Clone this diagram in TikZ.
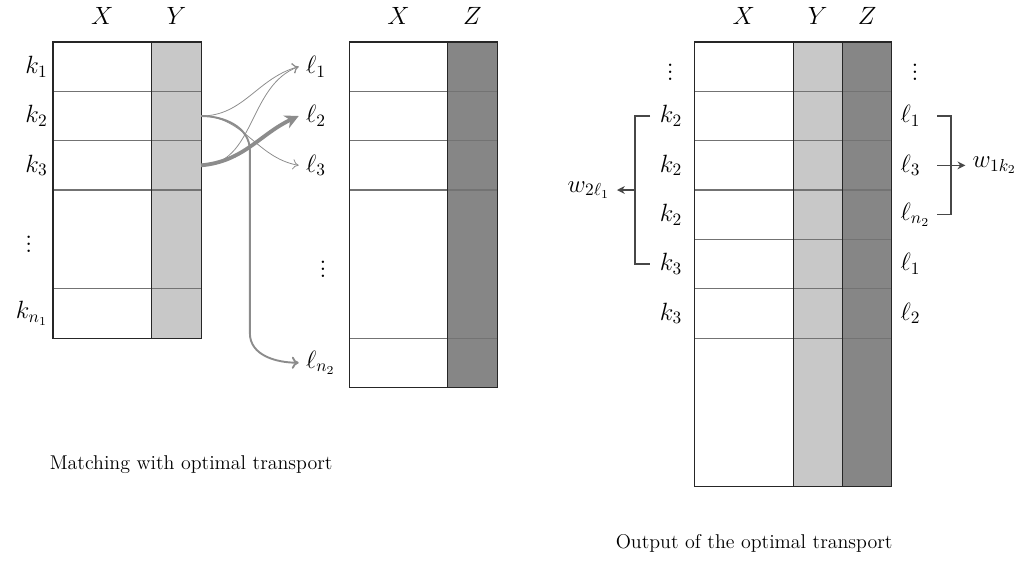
\documentclass[12pt,tikz,border=0pt]{standalone}
\usepackage{amsmath}
\usepackage{amssymb}
\usetikzlibrary{arrows.meta,calc}
\definecolor{ygray}{HTML}{C8C8C8}
\definecolor{zgray}{HTML}{868686}
\definecolor{linkgray}{HTML}{8C8C8C}
\definecolor{bracegray}{HTML}{474747}

\begin{document}
\begin{tikzpicture}[
    frame/.style={draw=black!85, line width=0.6pt},
    rowline/.style={draw=black!55, line width=0.6pt},
    rowlabel/.style={font=\large},
    colhead/.style={font=\large},
    thinlink/.style={draw=linkgray, line width=0.45pt, -{To[length=3.5pt,width=6pt]}},
    midlink/.style={draw=linkgray, line width=1.1pt, -{To[length=4pt,width=7pt]}},
    thicklink/.style={draw=linkgray, line width=2.2pt, -{Stealth[length=8pt,width=8pt]}},
    bracket/.style={draw=bracegray, line width=0.9pt},
    bracearrow/.style={draw=bracegray, line width=0.9pt, -{Stealth[length=4.5pt,width=4.5pt]}},
    caption/.style={font=\fontsize{11.5}{13}\selectfont}
]
    \useasboundingbox (-1.074,-10.886) rectangle (19.74,0.851);

    % matching: first table
    \fill[ygray] (2,0) rectangle (3,-6);
    \foreach \y in {-1,-2,-3,-5} \draw[rowline] (0,\y) -- (3,\y);
    \draw[frame] (0,0) rectangle (3,-6);
    \draw[frame] (2,0) -- (2,-6);
    \node[colhead] (aX) at (1,0.527) {$X$};
    \node[colhead] (aY) at (2.5,0.527) {$Y$};
    \node[left,rowlabel] (k1) at (0.04,-0.5) {$k_1$};
    \node[left,rowlabel] (k2) at (0.04,-1.5) {$k_2$};
    \node[left,rowlabel] (k3) at (0.04,-2.5) {$k_3$};
    \node[rowlabel] (kdots) at (-0.49,-4) {$\vdots$};
    \node[left,rowlabel] (kn) at (0.04,-5.5) {$k_{n_1}$};

    % matching: second table
    \fill[zgray] (8,0) rectangle (9,-7);
    \foreach \y in {-1,-2,-3,-6} \draw[rowline] (6,\y) -- (9,\y);
    \draw[frame] (6,0) rectangle (9,-7);
    \draw[frame] (8,0) -- (8,-7);
    \node[colhead] (bX) at (7,0.527) {$X$};
    \node[colhead] (bZ) at (8.5,0.527) {$Z$};
    \node[right,rowlabel] (l1) at (4.98,-0.5) {$\ell_1$};
    \node[right,rowlabel] (l2) at (4.98,-1.5) {$\ell_2$};
    \node[right,rowlabel] (l3) at (4.98,-2.5) {$\ell_3$};
    \node[rowlabel] (ldots) at (5.47,-4.5) {$\vdots$};
    \node[right,rowlabel] (ln) at (4.98,-6.5) {$\ell_{n_2}$};

    \coordinate (ys2) at (3,-1.5);
    \coordinate (ys3) at (3,-2.5);
    \coordinate (bendtop) at (3.99,-2.2);
    \coordinate (bendbot) at (3.99,-5.9);
    \draw[thinlink] (ys2) to[out=0,in=195] (l1.west);
    \draw[thinlink] (ys3) to[out=0,in=200] (l1.west);
    \draw[thinlink] (ys2) to[out=0,in=170] (l3.west);
    \draw[midlink] (ys2) to[out=0,in=90] (bendtop) -- (bendbot) to[out=-90,in=180] (ln.west);
    \draw[thicklink] (ys3) to[out=5,in=205] (l2.west);

    \node[caption] (capa) at (2.8,-8.57) {Matching with optimal transport};

    % output table
    \fill[ygray] (15,0) rectangle (16,-9);
    \fill[zgray] (16,0) rectangle (17,-9);
    \foreach \y in {-1,-2,-3,-4,-5,-6} \draw[rowline] (13,\y) -- (17,\y);
    \draw[frame] (13,0) rectangle (17,-9);
    \draw[frame] (15,0) -- (15,-9);
    \draw[frame] (16,0) -- (16,-9);
    \node[colhead] (cX) at (14,0.527) {$X$};
    \node[colhead] (cY) at (15.5,0.527) {$Y$};
    \node[colhead] (cZ) at (16.5,0.527) {$Z$};

    \node[rowlabel] (okdots) at (12.51,-0.5) {$\vdots$};
    \node[left,rowlabel] (ok1) at (12.9,-1.5) {$k_2$};
    \node[left,rowlabel] (ok2) at (12.9,-2.5) {$k_2$};
    \node[left,rowlabel] (ok3) at (12.9,-3.5) {$k_2$};
    \node[left,rowlabel] (ok4) at (12.9,-4.5) {$k_3$};
    \node[left,rowlabel] (ok5) at (12.9,-5.5) {$k_3$};

    \node[rowlabel] (oldots) at (17.47,-0.5) {$\vdots$};
    \node[right,rowlabel] (ol1) at (17.03,-1.5) {$\ell_1$};
    \node[right,rowlabel] (ol2) at (17.03,-2.5) {$\ell_3$};
    \node[right,rowlabel] (ol3) at (17.03,-3.5) {$\ell_{n_2}$};
    \node[right,rowlabel] (ol4) at (17.03,-4.5) {$\ell_1$};
    \node[right,rowlabel] (ol5) at (17.03,-5.5) {$\ell_2$};

    \coordinate (lbx) at (12.1,0);
    \coordinate (lbv) at (11.8,0);
    \node[left,rowlabel] (wk) at (11.43,-3) {$w_{2\ell_1}$};
    \draw[bracket] (ok1 -| lbx) -- (ok1 -| lbv) -- (ok4 -| lbv) -- (ok4 -| lbx);
    \draw[bracearrow] (lbv |- wk) -- (wk.east);

    \coordinate (rbx) at (17.92,0);
    \coordinate (rbv) at (18.2,0);
    \node[right,rowlabel] (wl) at (18.49,-2.5) {$w_{1k_2}$};
    \draw[bracket] (ol1 -| rbx) -- (ol1 -| rbv) -- (ol3 -| rbv) -- (ol3 -| rbx);
    \draw[bracearrow] (rbx |- wl) -- (wl.west);

    \node[caption] (capb) at (14.21,-10.16) {Output of the optimal transport};
\end{tikzpicture}
\end{document}
